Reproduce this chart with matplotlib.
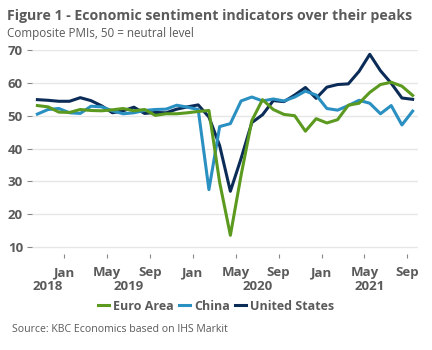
import matplotlib
matplotlib.use("Agg")
import matplotlib.pyplot as plt
import matplotlib.transforms as mtransforms

plt.rcParams["font.family"] = ["Open Sans", "DejaVu Sans"]

# monthly composite PMIs, Oct 2018 .. Sep 2021
euro_area = [53.1, 52.7, 51.1, 51.0, 51.9, 51.6, 51.5, 51.8, 52.2, 51.5, 51.9, 50.1,
             50.6, 50.6, 50.9, 51.3, 51.6, 29.7, 13.6, 31.9, 48.5, 54.9, 51.9, 50.4,
             50.0, 45.3, 49.1, 47.8, 48.8, 53.2, 53.8, 57.1, 59.5, 60.2, 59.0, 56.2]
china = [50.5, 51.9, 52.2, 50.9, 50.7, 52.9, 52.7, 51.5, 50.6, 50.9, 51.6, 51.9,
         52.0, 53.2, 52.6, 51.9, 27.5, 46.7, 47.6, 54.5, 55.7, 54.5, 55.1, 54.5,
         55.7, 57.5, 56.3, 52.2, 51.7, 53.1, 54.7, 53.8, 50.6, 53.1, 47.2, 51.4]
united_states = [54.9, 54.7, 54.4, 54.4, 55.5, 54.6, 53.0, 50.9, 51.5, 52.6, 50.7, 51.0,
                 50.9, 52.0, 52.7, 53.3, 49.6, 40.9, 27.0, 37.0, 47.9, 50.3, 54.6, 54.3,
                 56.3, 58.6, 55.3, 58.7, 59.5, 59.7, 63.5, 68.7, 63.7, 59.9, 55.4, 55.0]

month_labels = ["Jan", "May", "Sep", "Jan", "May", "Sep", "Jan", "May", "Sep"]
month_ticks = [2.5, 6.5, 10.5, 14.5, 18.5, 22.5, 26.5, 30.5, 34.5]
years = ["2018", "2019", "2020", "2021"]
year_pos = [1.0, 8.5, 20.5, 31.0]

grey = "#5a5a5a"
colors = {"Euro Area": "#5b9a1f", "China": "#2a8fc1", "United States": "#0c2c58"}

fig = plt.figure(figsize=(4.32, 3.5), dpi=100)
ax = fig.add_axes([0.0741, 0.2743, 0.8935, 0.5827])

x = list(range(len(euro_area)))
ax.plot(x, united_states, color=colors["United States"], lw=2.2, label="United States", zorder=3)
ax.plot(x, china, color=colors["China"], lw=2.2, label="China", zorder=3)
ax.plot(x, euro_area, color=colors["Euro Area"], lw=2.2, label="Euro Area", zorder=4)

ax.set_xlim(-0.5, 35.5)
ax.set_ylim(7.9, 70)
ax.set_yticks([10, 20, 30, 40, 50, 60, 70])
ax.yaxis.grid(True, color="#e6e6e6", lw=1)
ax.set_axisbelow(True)
for s in ax.spines.values():
    s.set_visible(False)

ax.set_xticks(month_ticks)
ax.set_xticklabels(month_labels)
ax.tick_params(axis="x", length=3, width=0.8, color="#888888", pad=6,
               labelsize=9.5, labelcolor=grey)
ax.tick_params(axis="y", length=3.5, width=0.8, color="#888888", pad=3,
               labelsize=9.5, labelcolor=grey)
for lbl in ax.get_xticklabels() + ax.get_yticklabels():
    lbl.set_fontweight("bold")

trans = mtransforms.blended_transform_factory(ax.transData, fig.transFigure)
for yr, p in zip(years, year_pos):
    ax.text(p, 1 - 286 / 350, yr, transform=trans, ha="center", va="center",
            fontsize=9.5, fontweight="bold", color=grey)

handles, labels = ax.get_legend_handles_labels()
order = [2, 1, 0]
leg = fig.legend([handles[i] for i in order], [labels[i] for i in order],
                 loc="center", bbox_to_anchor=(0.5, 1 - 306 / 350), ncol=3,
                 frameon=False, handlelength=0.9, handletextpad=0.3,
                 columnspacing=0.4, prop={"size": 9, "weight": "bold"})
for t in leg.get_texts():
    t.set_color(grey)

fig.text(7 / 432, 1 - 16 / 350, "Figure 1 - Economic sentiment indicators over their peaks",
         fontsize=10.2, fontweight="bold", color=grey, va="center", ha="left")
fig.text(7 / 432, 1 - 33 / 350, "Composite PMIs, 50 = neutral level",
         fontsize=8.4, color=grey, va="center", ha="left")
fig.text(12 / 432, 1 - 330 / 350, "Source: KBC Economics based on IHS Markit",
         fontsize=7.6, color=grey, va="center", ha="left")

fig.savefig("out.png", dpi=100)
